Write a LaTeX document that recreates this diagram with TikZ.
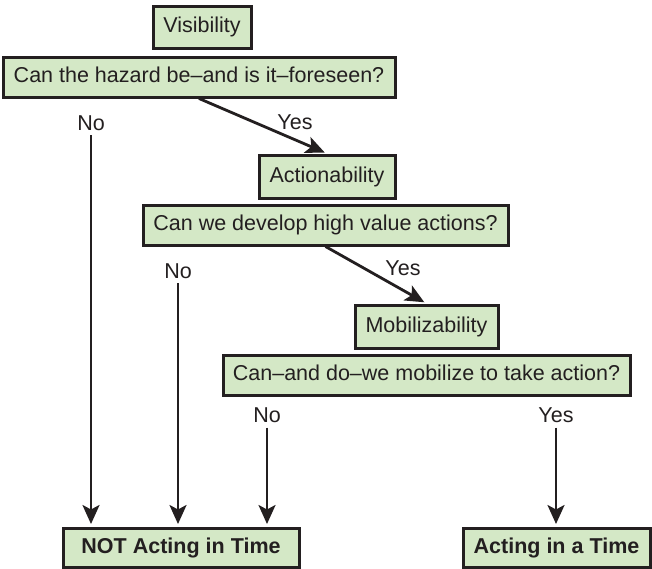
\documentclass[tikz,border=0pt]{standalone}
\usepackage{fontspec}
\setmainfont{Liberation Sans}
\usetikzlibrary{arrows.meta}
\definecolor{boxfill}{RGB}{212,232,198}
\definecolor{ink}{RGB}{35,31,32}
\begin{document}
\begin{tikzpicture}[x=1pt,y=-1pt,
  txt/.style={text=ink, font=\fontsize{21.5}{24}\selectfont},
  box/.style={txt, draw=ink, fill=boxfill, line width=3pt, inner sep=0pt, text height=15.5pt, text depth=4.5pt},
  lbl/.style={txt, inner sep=0pt},
  arr/.style={draw=ink, line width=2.8pt, -{Stealth[length=19pt,width=17pt,inset=4.5pt]}, shorten >=2.5pt}]
\useasboundingbox (0,0) rectangle (652,568);
% boxes
\node[box, minimum width=98pt, minimum height=42pt] (vis) at (202,27) {Visibility};
\node[box, minimum width=392pt, minimum height=40pt] (q1) at (199,77) {Can the hazard be--and is it--foreseen?};
\node[box, minimum width=136pt, minimum height=43pt] (act) at (327,176.5) {Actionability};
\node[box, minimum width=365pt, minimum height=40pt] (q2) at (325.5,225) {Can we develop high value actions?};
\node[box, minimum width=143pt, minimum height=43pt] (mob) at (426.5,326.5) {Mobilizability};
\node[box, minimum width=407pt, minimum height=40pt] (q3) at (426.5,375) {Can--and do--we mobilize to take action?};
\node[box, minimum width=236pt, minimum height=39pt, font=\fontsize{21.5}{24}\selectfont\bfseries] (not) at (181,547.5) {NOT Acting in Time};
\node[box, minimum width=187pt, minimum height=39pt, font=\fontsize{21.5}{24}\selectfont\bfseries] (yes) at (556.5,547.5) {Acting in a Time};
% labels
\node[lbl] (no1) at (91,123) {No};
\node[lbl] (yes1) at (295,122) {Yes};
\node[lbl] (no2) at (178,271) {No};
\node[lbl] (yes2) at (403,268) {Yes};
\node[lbl] (no3) at (267,415) {No};
\node[lbl] (yes3) at (556,415) {Yes};
% connectors
\draw[arr] ([yshift=-4.5pt]no1.south) -- (no1.south |- not.north);
\draw[arr] ([yshift=-4.5pt]no2.south) -- (no2.south |- not.north);
\draw[arr] ([yshift=-5pt]no3.south) -- (no3.south |- not.north);
\draw[arr] ([yshift=-5pt]yes3.south) -- (yes3.south |- yes.north);
\draw[arr] (q1.south) -- (act.north);
\draw[arr] (q2.south) -- (mob.north);
\end{tikzpicture}
\end{document}
